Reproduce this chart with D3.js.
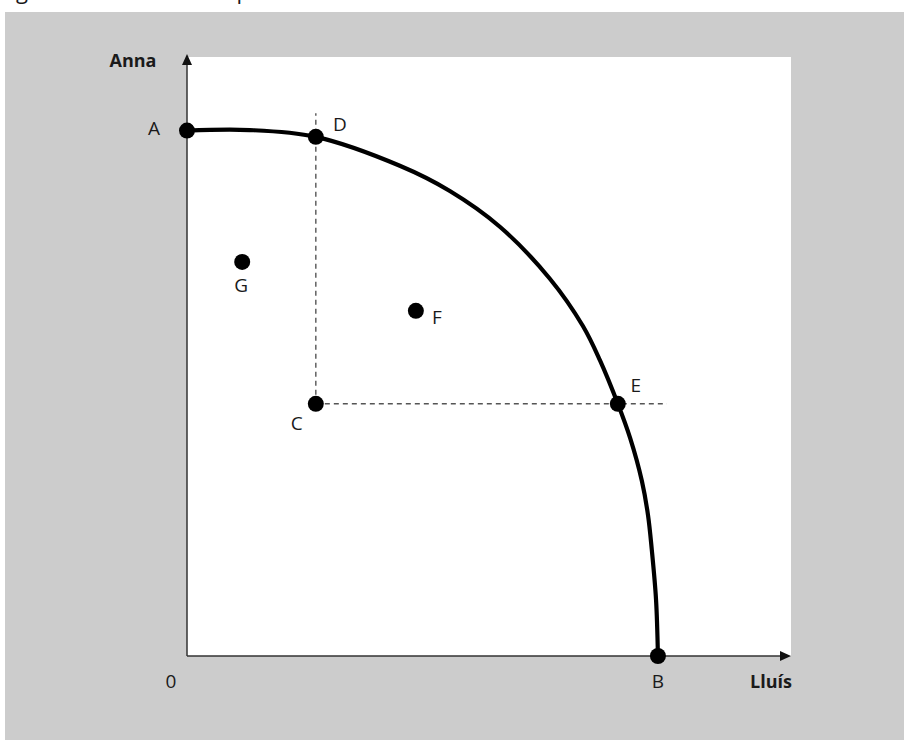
<!DOCTYPE html>
<html>
<head>
<meta charset="utf-8">
<script src="https://cdn.jsdelivr.net/npm/d3@7"></script>
<style>
  body { margin: 0; background: #ffffff; }
  svg { display: block; }
  text { font-family: "Open Sans", "Noto Sans", sans-serif; fill: #1a1a1a; }
</style>
</head>
<body>
<div id="chart"></div>
<script>
// --------------------------------------
//  Data
// --------------------------------------

const pointNames = ["A", "B", "C", "D", "E", "F", "G"];
const pointLluis = [0, 99.8, 27.3, 27.3, 91.3, 48.5, 11.7];
const pointAnna  = [100, 0, 48.0, 98.8, 48.0, 65.7, 75.0];

// frontier
const frontierLluis = [0, 13.3, 27.3, 45.1, 55.7, 66.3, 76.9, 83.9, 87.5, 91.3, 93.9, 96.4, 97.7, 98.5, 99.4, 99.8];
const frontierAnna  = [100, 100.1, 98.8, 93.3, 88.5, 81.7, 71.8, 62.8, 56.3, 48.0, 41.5, 33.3, 26.8, 20.2, 10.7, 0];

// dashed guides through C
const guideTopAnna = 103.3;
const guideRightLluis = 101.7;

const axisTitles = {x: "Lluís", y: "Anna"};
const originLabel = "0";
const captionText = "Figura 1.1. Frontera de possibilitats";

// --------------------------------------
//  Margin and canvas
// --------------------------------------

const width = 904;
const height = 740;
const margin = {top: 57, right: 113, bottom: 84, left: 187};
const innerwidth = width - margin.left - margin.right;
const innerheight = height - margin.top - margin.bottom;

const svg = d3.select("#chart")
  .append("svg")
    .attr("width", width)
    .attr("height", height)
    .attr("viewBox", `0, 0, ${width}, ${height}`);

// page caption, cut off at the top
svg.append("text")
  .attr("x", -1)
  .attr("y", -1)
  .attr("font-size", 22)
  .text(captionText);

svg.append("rect")
  .attr("x", 5)
  .attr("y", 12)
  .attr("width", width - 5)
  .attr("height", height - 12)
  .attr("fill", "#cccccc");

const innerChart = svg
  .append("g")
    .attr("transform", `translate(${margin.left}, ${margin.top})`);

innerChart.append("rect")
  .attr("width", innerwidth)
  .attr("height", innerheight)
  .attr("fill", "#ffffff");

// --------------------------------------
//  Scales
// --------------------------------------

const x = d3.scaleLinear()
  .domain([0, 128])
  .range([0, innerwidth]);

const y = d3.scaleLinear()
  .domain([0, 114])
  .range([innerheight, 0]);

// --------------------------------------
//  Axes
// --------------------------------------

const axisColor = "#333";

innerChart.append("line")
  .attr("x1", 0).attr("y1", innerheight)
  .attr("x2", innerwidth - 8).attr("y2", innerheight)
  .attr("stroke", axisColor)
  .attr("stroke-width", 1.5);

innerChart.append("path")
  .attr("d", `M${innerwidth},${innerheight} l-11,-5 l0,10 z`)
  .attr("fill", "#111");

innerChart.append("line")
  .attr("x1", 0).attr("y1", innerheight)
  .attr("x2", 0).attr("y2", 6)
  .attr("stroke", axisColor)
  .attr("stroke-width", 1.5);

innerChart.append("path")
  .attr("d", `M0,-3 l-5,11 l10,0 z`)
  .attr("fill", "#111");

innerChart.append("text")
  .attr("x", -54)
  .attr("y", 3)
  .attr("text-anchor", "middle")
  .attr("dominant-baseline", "central")
  .attr("font-size", 18)
  .attr("font-weight", "bold")
  .text(axisTitles.y);

innerChart.append("text")
  .attr("x", innerwidth - 20)
  .attr("y", innerheight + 25)
  .attr("text-anchor", "middle")
  .attr("dominant-baseline", "central")
  .attr("font-size", 18)
  .attr("font-weight", "bold")
  .text(axisTitles.x);

innerChart.append("text")
  .attr("x", -16)
  .attr("y", innerheight + 25)
  .attr("text-anchor", "middle")
  .attr("dominant-baseline", "central")
  .attr("font-size", 19)
  .text(originLabel);

// --------------------------------------
//  Data drawing
// --------------------------------------

const cIndex = pointNames.indexOf("C");
const cX = pointLluis[cIndex];
const cY = pointAnna[cIndex];

innerChart.append("line")
  .attr("x1", x(cX)).attr("y1", y(cY))
  .attr("x2", x(cX)).attr("y2", y(guideTopAnna))
  .attr("stroke", "#555")
  .attr("stroke-width", 1.4)
  .attr("stroke-dasharray", "5,4");

innerChart.append("line")
  .attr("x1", x(cX)).attr("y1", y(cY))
  .attr("x2", x(guideRightLluis)).attr("y2", y(cY))
  .attr("stroke", "#555")
  .attr("stroke-width", 1.4)
  .attr("stroke-dasharray", "5,4");

const frontier = frontierLluis.map((d, i) => ({lluis: d, anna: frontierAnna[i]}));

const lineGenerator = d3.line()
  .x(d => x(d.lluis))
  .y(d => y(d.anna))
  .curve(d3.curveCatmullRom.alpha(0.5));

innerChart.append("path")
  .attr("d", lineGenerator(frontier))
  .attr("fill", "none")
  .attr("stroke", "#000")
  .attr("stroke-width", 4.2);

const points = pointNames.map((d, i) => ({id: d, lluis: pointLluis[i], anna: pointAnna[i]}));

// label offsets in pixels
const labelOffset = {
  A: [-33, -3],
  B: [0, 25],
  C: [-19, 19],
  D: [24, -13],
  E: [18, -19],
  F: [21, 6],
  G: [-1, 23]
};

innerChart.selectAll(".point")
  .data(points)
  .join("circle")
    .attr("class", "point")
    .attr("cx", d => x(d.lluis))
    .attr("cy", d => y(d.anna))
    .attr("r", 8)
    .attr("fill", "#000");

innerChart.selectAll(".point-label")
  .data(points)
  .join("text")
    .attr("class", "point-label")
    .attr("x", d => x(d.lluis) + labelOffset[d.id][0])
    .attr("y", d => y(d.anna) + labelOffset[d.id][1])
    .attr("text-anchor", "middle")
    .attr("dominant-baseline", "central")
    .attr("font-size", 19)
    .text(d => d.id);
</script>
</body>
</html>
